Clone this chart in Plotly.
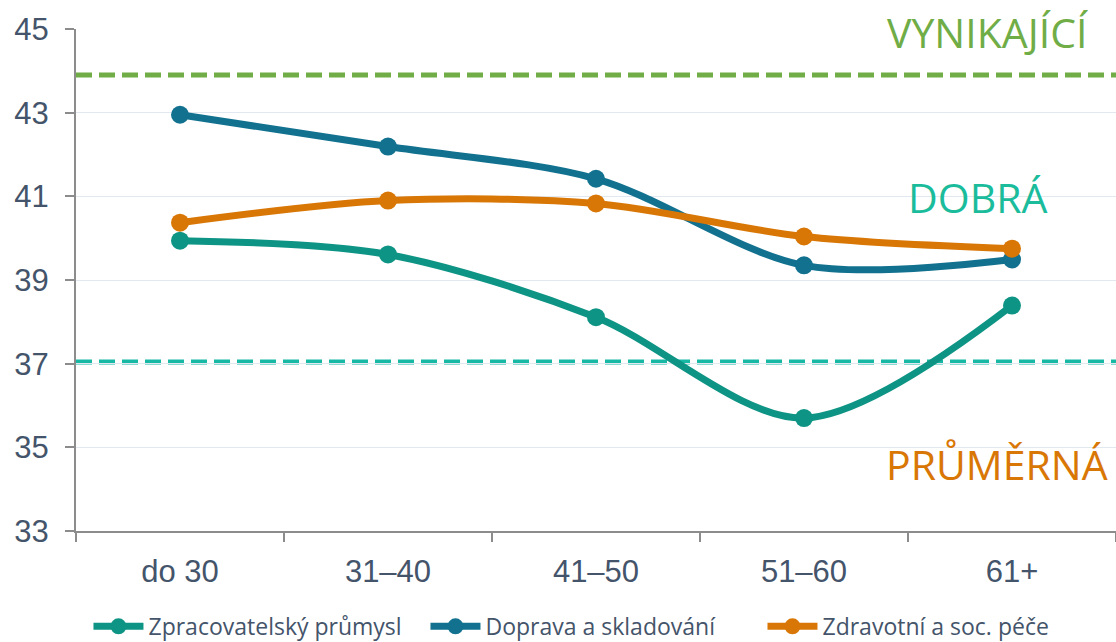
import plotly.graph_objects as go

# Age groups on the x axis
categories = ["do 30", "31–40", "41–50", "51–60", "61+"]

# Average scores per sector and age group
zpracovatelsky = [39.94, 39.61, 38.11, 35.70, 38.39]
doprava = [42.95, 42.19, 41.42, 39.35, 39.49]
zdravotni = [40.37, 40.90, 40.83, 40.04, 39.75]

series_names = ["Zpracovatelský průmysl", "Doprava a skladování", "Zdravotní a soc. péče"]
series_colors = ["#0E9484", "#11718F", "#D97706"]

# Rating thresholds drawn as dashed reference lines
threshold_excellent = 43.9
threshold_good = 37.04

# Rating band labels
band_labels = ["VYNIKAJÍCÍ", "DOBRÁ", "PRŮMĚRNÁ"]
band_label_y = [44.92, 40.99, 34.6]
band_label_colors = ["#70AD47", "#1ABC9C", "#D97706"]

y_ticks = [33, 35, 37, 39, 41, 43, 45]

fig = go.Figure()

for name, values, color in zip(series_names, [zpracovatelsky, doprava, zdravotni], series_colors):
    fig.add_trace(go.Scatter(
        x=categories,
        y=values,
        name=name,
        mode="lines+markers",
        line=dict(color=color, width=7, shape="spline", smoothing=0.9),
        marker=dict(color=color, size=18),
    ))

fig.add_shape(type="line", xref="paper", yref="y", x0=0, x1=1,
              y0=threshold_excellent, y1=threshold_excellent,
              line=dict(color="#70AD47", width=5, dash="16px,7px"), layer="below")
fig.add_shape(type="line", xref="paper", yref="y", x0=0, x1=1,
              y0=threshold_good, y1=threshold_good,
              line=dict(color="#17B8A4", width=5, dash="16px,7px"), layer="below")

label_x = [0.876, 0.867, 0.886]
for text, y, color, x in zip(band_labels, band_label_y, band_label_colors, label_x):
    fig.add_annotation(text=text, x=x, xref="paper", y=y, yref="y",
                       xanchor="center", yanchor="middle", showarrow=False,
                       font=dict(family="Open Sans", size=41, color=color))

fig.update_layout(
    width=1116, height=642,
    margin=dict(l=76, r=0, t=29, b=111, autoexpand=False),
    plot_bgcolor="white",
    paper_bgcolor="white",
    showlegend=True,
    legend=dict(orientation="h", x=0.012, xanchor="left", y=-0.19, yanchor="middle",
                font=dict(family="Open Sans", size=23, color="#44546A"),
                entrywidth=272, entrywidthmode="pixels",
                itemwidth=50, tracegroupgap=0),
    xaxis=dict(
        type="category",
        showline=True, linecolor="#8C8C8C", linewidth=2,
        ticks="outside", tickson="boundaries", ticklen=9, tickcolor="#8C8C8C", tickwidth=2,
        showgrid=False,
        ticklabelstandoff=12,
        tickfont=dict(family="Liberation Sans", size=31, color="#44546A"),
        range=[-0.5, 4.5],
    ),
    yaxis=dict(
        range=[33, 45],
        tickvals=y_ticks,
        showline=True, linecolor="#8C8C8C", linewidth=2,
        ticks="outside", ticklen=9, tickcolor="#8C8C8C", tickwidth=2,
        showgrid=True, gridcolor="#E2E8F0", gridwidth=1,
        zeroline=False,
        ticklabelstandoff=10,
        tickfont=dict(family="Liberation Sans", size=31, color="#44546A"),
    ),
)

fig.write_html("out.html")
